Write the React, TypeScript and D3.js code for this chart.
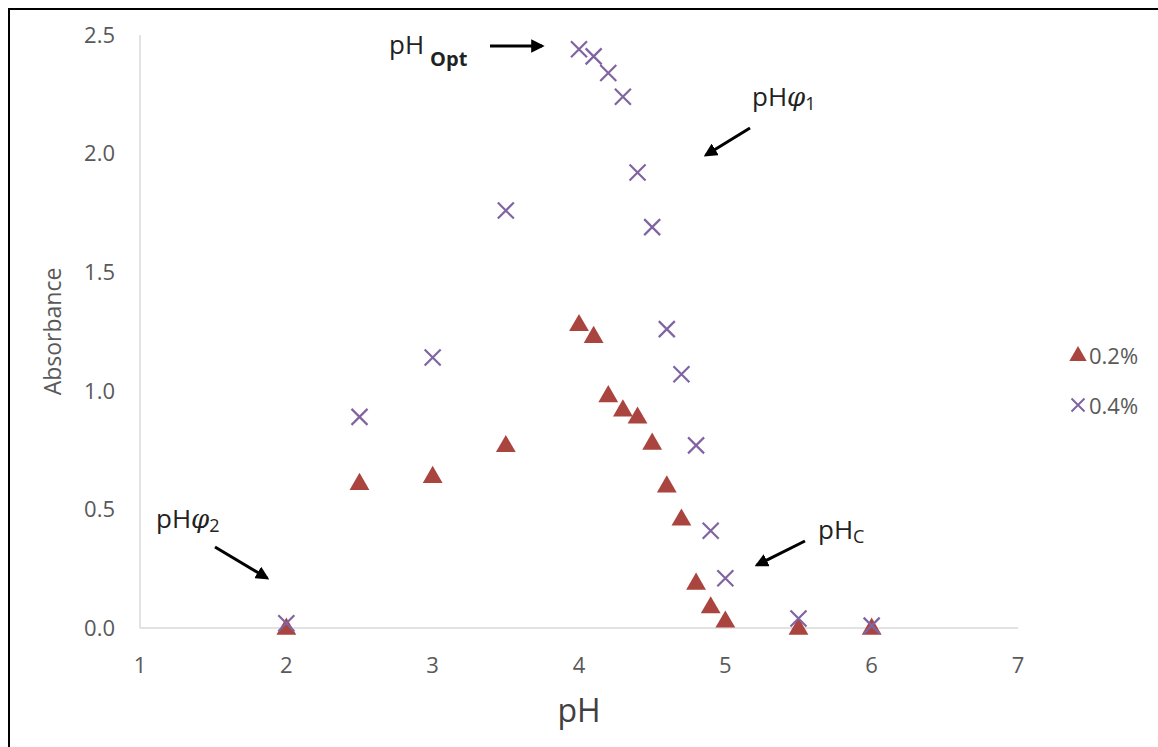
import React, { useEffect, useRef } from "react";
import * as d3 from "d3";

// pH values shared by both series
const phValues = [2, 2.5, 3, 3.5, 4, 4.1, 4.2, 4.3, 4.4, 4.5, 4.6, 4.7, 4.8, 4.9, 5, 5.5, 6];
// absorbance, 0.2% series (triangles)
const abs02 = [0, 0.61, 0.64, 0.77, 1.28, 1.23, 0.98, 0.92, 0.89, 0.78, 0.6, 0.46, 0.19, 0.09, 0.03, 0, 0];
// absorbance, 0.4% series (crosses)
const abs04 = [0.02, 0.89, 1.14, 1.76, 2.44, 2.41, 2.34, 2.24, 1.92, 1.69, 1.26, 1.07, 0.77, 0.41, 0.21, 0.04, 0.01];

const xTicks = [1, 2, 3, 4, 5, 6, 7];
const yTicks = [0, 0.5, 1, 1.5, 2, 2.5];
const seriesNames = ["0.2%", "0.4%"];

const W = 1158;
const H = 747;
const FONT = "'Open Sans', sans-serif";
const TRI_COLOR = "#a9443f";
const X_COLOR = "#8064a2";
const LABEL_COLOR = "#595959";

export default function App() {
  const ref = useRef<SVGSVGElement>(null);

  useEffect(() => {
    const svg = d3.select(ref.current);
    svg.selectAll("*").remove();

    const x = d3.scaleLinear().domain([1, 7]).range([140, 1018]);
    const y = d3.scaleLinear().domain([0, 2.5]).range([628, 35]);

    // frame
    svg.append("rect")
      .attr("x", 9).attr("y", 9)
      .attr("width", W + 20).attr("height", H + 20)
      .attr("fill", "white").attr("stroke", "black").attr("stroke-width", 2);

    // axis lines
    svg.append("line")
      .attr("x1", x(1)).attr("x2", x(1))
      .attr("y1", y(2.5)).attr("y2", y(0))
      .attr("stroke", "#d9d9d9").attr("stroke-width", 1.5);
    svg.append("line")
      .attr("x1", x(1)).attr("x2", x(7))
      .attr("y1", y(0)).attr("y2", y(0))
      .attr("stroke", "#d9d9d9").attr("stroke-width", 1.5);

    // tick labels
    svg.append("g").selectAll("text").data(yTicks).join("text")
      .attr("x", 115).attr("y", d => y(d))
      .attr("dy", "0.35em")
      .attr("text-anchor", "end")
      .attr("font-family", FONT).attr("font-size", 22)
      .attr("fill", LABEL_COLOR)
      .text(d => d3.format(".1f")(d));

    svg.append("g").selectAll("text").data(xTicks).join("text")
      .attr("x", d => x(d)).attr("y", 665)
      .attr("dy", "0.35em")
      .attr("text-anchor", "middle")
      .attr("font-family", FONT).attr("font-size", 22)
      .attr("fill", LABEL_COLOR)
      .text(d => String(d));

    // axis titles
    svg.append("text")
      .attr("transform", `translate(61,${y(1.25)}) rotate(-90)`)
      .attr("text-anchor", "middle")
      .attr("font-family", FONT).attr("font-size", 23)
      .attr("fill", LABEL_COLOR)
      .text("Absorbance");
    svg.append("text")
      .attr("x", x(4)).attr("y", 722)
      .attr("text-anchor", "middle")
      .attr("font-family", FONT).attr("font-size", 32)
      .attr("fill", "#404040")
      .text("pH");

    const tri = d3.symbol().type(d3.symbolTriangle).size(170);
    const cross = (s: number) => `M${-s},${-s}L${s},${s}M${-s},${s}L${s},${-s}`;

    // 0.2% triangles
    svg.append("g").selectAll("path").data(phValues).join("path")
      .attr("transform", (d, i) => `translate(${x(d)},${y(abs02[i]) + 1})`)
      .attr("d", tri()!)
      .attr("fill", TRI_COLOR);

    // 0.4% crosses
    svg.append("g").selectAll("path").data(phValues).join("path")
      .attr("transform", (d, i) => `translate(${x(d)},${y(abs04[i])})`)
      .attr("d", cross(8))
      .attr("fill", "none")
      .attr("stroke", X_COLOR).attr("stroke-width", 2.2);

    // legend
    const lg = svg.append("g");
    lg.append("path").attr("transform", "translate(1078,356)").attr("d", d3.symbol().type(d3.symbolTriangle).size(130)()!).attr("fill", TRI_COLOR);
    lg.append("path").attr("transform", "translate(1078,405)").attr("d", cross(6.5)).attr("stroke", X_COLOR).attr("stroke-width", 2);
    lg.selectAll("text").data(seriesNames).join("text")
      .attr("x", 1089).attr("y", (d, i) => 356 + i * 50)
      .attr("dy", "0.35em")
      .attr("font-family", FONT).attr("font-size", 22)
      .attr("fill", LABEL_COLOR)
      .text(d => d);

    // annotations
    const defs = svg.append("defs");
    defs.append("marker")
      .attr("id", "ah").attr("viewBox", "0 0 10 10")
      .attr("refX", 8).attr("refY", 5)
      .attr("markerWidth", 4.5).attr("markerHeight", 4.5)
      .attr("orient", "auto")
      .append("path").attr("d", "M0,0L10,5L0,10z").attr("fill", "black");

    const arrow = (x1: number, y1: number, x2: number, y2: number) =>
      svg.append("line")
        .attr("x1", x1).attr("y1", y1).attr("x2", x2).attr("y2", y2)
        .attr("stroke", "black").attr("stroke-width", 3)
        .attr("marker-end", "url(#ah)");

    const label = (tx: number, ty: number, sub: string, greek: boolean, bold: boolean) => {
      const t = svg.append("text")
        .attr("x", tx).attr("y", ty)
        .attr("font-family", FONT).attr("font-size", 26)
        .attr("fill", "#222");
      t.append("tspan").text("pH");
      if (greek) {
        t.append("tspan").attr("font-style", "italic").attr("font-family", "'DejaVu Serif', serif").text("φ");
        t.append("tspan").attr("font-size", 18).attr("dy", 4).text(sub);
      } else {
        t.append("tspan")
          .attr("font-size", bold ? 20 : 18)
          .attr("font-weight", bold ? 700 : 400)
          .attr("dx", bold ? 6 : 0)
          .attr("dy", bold ? 12 : 4)
          .text(sub);
      }
    };

    label(389, 54, "Opt", false, true);
    arrow(490, 46, 542, 46);
    label(752, 106, "1", true, false);
    arrow(750, 128, 706, 155);
    label(156, 528, "2", true, false);
    arrow(215, 547, 267, 578);
    label(818, 539, "C", false, false);
    arrow(805, 541, 757, 565);
  }, []);

  return (
    <svg ref={ref} width={W} height={H}
      style={{ position: "absolute", left: 0, top: 0, background: "white" }} />
  );
}
